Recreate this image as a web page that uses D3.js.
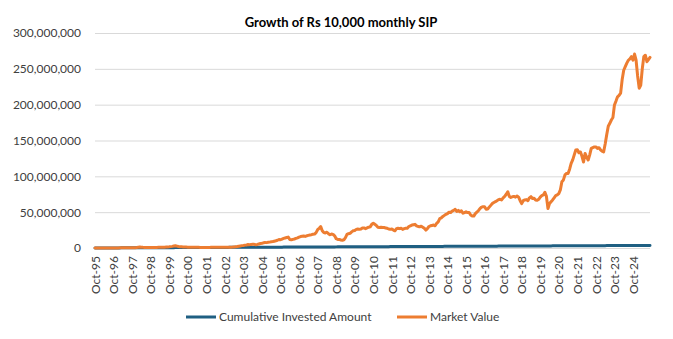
<!DOCTYPE html>
<html>
<head>
<meta charset="utf-8">
<title>Growth of Rs 10,000 monthly SIP</title>
<script src="https://cdn.jsdelivr.net/npm/d3@7"></script>
<style>
body { margin: 0; background: #fff; }
svg text { font-family: Lato, "Open Sans", sans-serif; fill: #404040; }
.grid line { stroke: #d9d9d9; stroke-width: 1; }
</style>
<script>
// Rs 10,000 invested every month from Oct-95; values below are in thousands / millions
var investedK = [
  10,20,30,40,50,60,70,80,90,100,110,120,
  130,140,150,160,170,180,190,200,210,220,230,240,
  250,260,270,280,290,300,310,320,330,340,350,360,
  370,380,390,400,410,420,430,440,450,460,470,480,
  490,500,510,520,530,540,550,560,570,580,590,600,
  610,620,630,640,650,660,670,680,690,700,710,720,
  730,740,750,760,770,780,790,800,810,820,830,840,
  850,860,870,880,890,900,910,920,930,940,950,960,
  970,980,990,1000,1010,1020,1030,1040,1050,1060,1070,1080,
  1090,1100,1110,1120,1130,1140,1150,1160,1170,1180,1190,1200,
  1210,1220,1230,1240,1250,1260,1270,1280,1290,1300,1310,1320,
  1330,1340,1350,1360,1370,1380,1390,1400,1410,1420,1430,1440,
  1450,1460,1470,1480,1490,1500,1510,1520,1530,1540,1550,1560,
  1570,1580,1590,1600,1610,1620,1630,1640,1650,1660,1670,1680,
  1690,1700,1710,1720,1730,1740,1750,1760,1770,1780,1790,1800,
  1810,1820,1830,1840,1850,1860,1870,1880,1890,1900,1910,1920,
  1930,1940,1950,1960,1970,1980,1990,2000,2010,2020,2030,2040,
  2050,2060,2070,2080,2090,2100,2110,2120,2130,2140,2150,2160,
  2170,2180,2190,2200,2210,2220,2230,2240,2250,2260,2270,2280,
  2290,2300,2310,2320,2330,2340,2350,2360,2370,2380,2390,2400,
  2410,2420,2430,2440,2450,2460,2470,2480,2490,2500,2510,2520,
  2530,2540,2550,2560,2570,2580,2590,2600,2610,2620,2630,2640,
  2650,2660,2670,2680,2690,2700,2710,2720,2730,2740,2750,2760,
  2770,2780,2790,2800,2810,2820,2830,2840,2850,2860,2870,2880,
  2890,2900,2910,2920,2930,2940,2950,2960,2970,2980,2990,3000,
  3010,3020,3030,3040,3050,3060,3070,3080,3090,3100,3110,3120,
  3130,3140,3150,3160,3170,3180,3190,3200,3210,3220,3230,3240,
  3250,3260,3270,3280,3290,3300,3310,3320,3330,3340,3350,3360,
  3370,3380,3390,3400,3410,3420,3430,3440,3450,3460,3470,3480,
  3490,3500,3510,3520,3530,3540,3550,3560,3570,3580,3590,3600
];

var marketValueMn = [
  0.01,0.02,0.03,0.04,0.05,0.06,0.07,0.08,0.09,0.10,0.12,0.13,
  0.13,0.14,0.15,0.17,0.19,0.21,0.23,0.25,0.28,0.30,0.33,0.35,
  0.38,0.42,0.50,0.70,1.00,1.30,1.10,0.90,0.80,0.70,0.65,0.60,
  0.62,0.65,0.70,0.80,0.85,0.90,0.95,1.00,1.10,1.20,1.30,1.40,
  1.60,1.90,2.30,2.80,3.20,2.60,2.00,1.70,1.60,1.50,1.40,1.30,
  1.20,1.10,1.10,1.00,1.00,0.95,0.90,0.90,0.85,0.85,0.80,0.75,
  0.80,0.85,0.85,0.90,0.90,0.95,0.95,1.00,1.00,0.95,0.95,0.95,
  1.00,1.05,1.10,1.10,1.15,1.30,1.50,1.80,2.10,2.50,2.90,3.30,
  3.60,4.00,4.30,4.80,4.70,5.00,5.20,5.10,4.60,5.00,5.60,6.20,
  6.60,7.20,7.60,7.50,7.90,8.20,8.60,9.00,9.50,10.0,10.8,11.8,
  11.5,12.5,13.4,14.0,14.6,15.2,11.8,11.4,12.0,12.6,13.4,14.2,
  15.2,16.0,16.4,16.8,16.2,17.0,17.6,18.2,18.6,19.2,19.4,21.5,
  25.5,27.5,29.8,24.0,21.5,21.0,22.0,20.0,18.5,19.5,19.0,17.0,
  13.0,12.0,12.0,11.2,10.8,11.5,14.5,19.0,20.0,20.5,22.5,24.0,
  24.5,26.0,26.5,26.0,26.5,28.0,28.0,27.0,28.0,29.0,29.5,33.0,
  34.5,33.0,31.5,29.0,28.5,29.0,28.5,28.5,28.0,27.5,26.5,26.0,
  26.5,25.0,24.0,27.0,27.5,27.0,27.5,26.0,27.0,27.5,27.5,30.0,
  31.0,32.0,32.5,33.0,31.0,30.0,29.5,30.5,29.0,27.5,25.0,27.0,
  30.0,31.0,31.5,32.0,31.0,34.5,36.5,41.0,42.0,44.0,45.5,47.0,
  48.0,50.0,49.5,51.5,52.5,54.0,51.0,52.5,50.5,52.0,48.5,49.5,
  50.5,49.5,49.5,46.0,44.6,44.5,48.0,50.0,52.0,55.0,57.0,57.6,
  57.5,54.0,54.4,57.0,59.5,62.0,63.5,64.6,66.0,67.5,68.0,67.0,
  70.0,72.0,75.0,78.5,72.0,70.5,71.5,72.0,71.0,72.5,71.0,66.0,
  62.0,66.0,67.0,67.5,66.0,70.0,71.6,69.0,69.5,67.0,66.5,68.0,
  71.0,73.0,74.0,77.6,72.0,55.0,62.0,64.6,67.0,70.0,73.0,74.0,
  76.0,81.0,92.5,95.0,102,104,104,110,118,123,130,136.7,
  137,133,134,128,120,132,127,122.8,130,139,140,141,
  141,139,140,137,135,134,145,158,170,174,178.6,182,
  199.5,205,211,213,216,235,248,253,258,262,264,267,
  262,270.6,262,240,223,227,250,267,269,260,263,266
];

var tickLabels = [
  "Oct-95","Oct-96","Oct-97","Oct-98","Oct-99","Oct-00","Oct-01","Oct-02",
  "Oct-03","Oct-04","Oct-05","Oct-06","Oct-07","Oct-08","Oct-09","Oct-10",
  "Oct-11","Oct-12","Oct-13","Oct-14","Oct-15","Oct-16","Oct-17","Oct-18",
  "Oct-19","Oct-20","Oct-21","Oct-22","Oct-23","Oct-24"
];
var yTicks = [0, 50000000, 100000000, 150000000, 200000000, 250000000, 300000000];
var seriesNames = ["Cumulative Invested Amount", "Market Value"];
var seriesColors = ["#1f5f82", "#ed7d31"];

var draw = function() {
  var svg = d3.select('#chart');
  var left = 95, right = 650, top = 33, bottom = 248;

  // one category per month, Oct-95 .. Sep-25
  var fmt = d3.timeFormat('%b-%y');
  var months = d3.timeMonth.range(new Date(1995, 9, 1), new Date(2025, 9, 1)).map(fmt);

  var x = d3.scalePoint().domain(months).range([left, right]);
  var y = d3.scaleLinear().domain([0, 300000000]).range([bottom, top]);

  // gridlines + y labels
  var yAxis = svg.append('g')
    .attr('class', 'grid')
    .attr('transform', 'translate(' + left + ',0)')
    .call(d3.axisLeft(y).tickValues(yTicks).tickFormat(d3.format(','))
      .tickSize(-(right - left)).tickPadding(14));
  yAxis.select('.domain').remove();
  yAxis.selectAll('text').style('font-size', '12px');

  // month labels, rotated
  var xAxis = svg.append('g')
    .attr('transform', 'translate(0,' + bottom + ')')
    .call(d3.axisBottom(x).tickValues(tickLabels).tickSize(0));
  xAxis.select('.domain').remove();
  xAxis.selectAll('text')
    .style('font-size', '12px')
    .attr('text-anchor', 'end')
    .attr('transform', 'rotate(-90)')
    .attr('x', -8)
    .attr('y', 0)
    .attr('dy', '0.35em');

  var series = [
    investedK.map(function(v) { return v * 1000; }),
    marketValueMn.map(function(v) { return v * 1000000; })
  ];

  var line = d3.line()
    .x(function(d, i) { return x(months[i]); })
    .y(function(d) { return y(d); });

  svg.selectAll('path.series')
    .data(series)
    .enter().append('path')
    .attr('class', 'series')
    .attr('d', line)
    .attr('fill', 'none')
    .attr('stroke', function(d, i) { return seriesColors[i]; })
    .attr('stroke-width', 3)
    .attr('stroke-linejoin', 'round')
    .attr('stroke-linecap', 'round');

  svg.append('text')
    .attr('x', 341)
    .attr('y', 27)
    .attr('text-anchor', 'middle')
    .style('font-size', '13px')
    .style('font-weight', 'bold')
    .style('fill', '#000')
    .text('Growth of Rs 10,000 monthly SIP');

  // legend
  var legendX = [186, 397];
  var legend = svg.selectAll('g.legend')
    .data(seriesNames)
    .enter().append('g')
    .attr('class', 'legend')
    .attr('transform', function(d, i) { return 'translate(' + legendX[i] + ',317)'; });
  legend.append('line')
    .attr('x1', 0).attr('x2', 30)
    .attr('stroke', function(d, i) { return seriesColors[i]; })
    .attr('stroke-width', 3);
  legend.append('text')
    .attr('x', 33)
    .attr('dy', '0.35em')
    .style('font-size', '12px')
    .text(function(d) { return d; });
}

window.onload = function() {
  draw();
}
</script>
</head>
<body>
<svg id="chart" width="673" height="339"></svg>
</body>
</html>
